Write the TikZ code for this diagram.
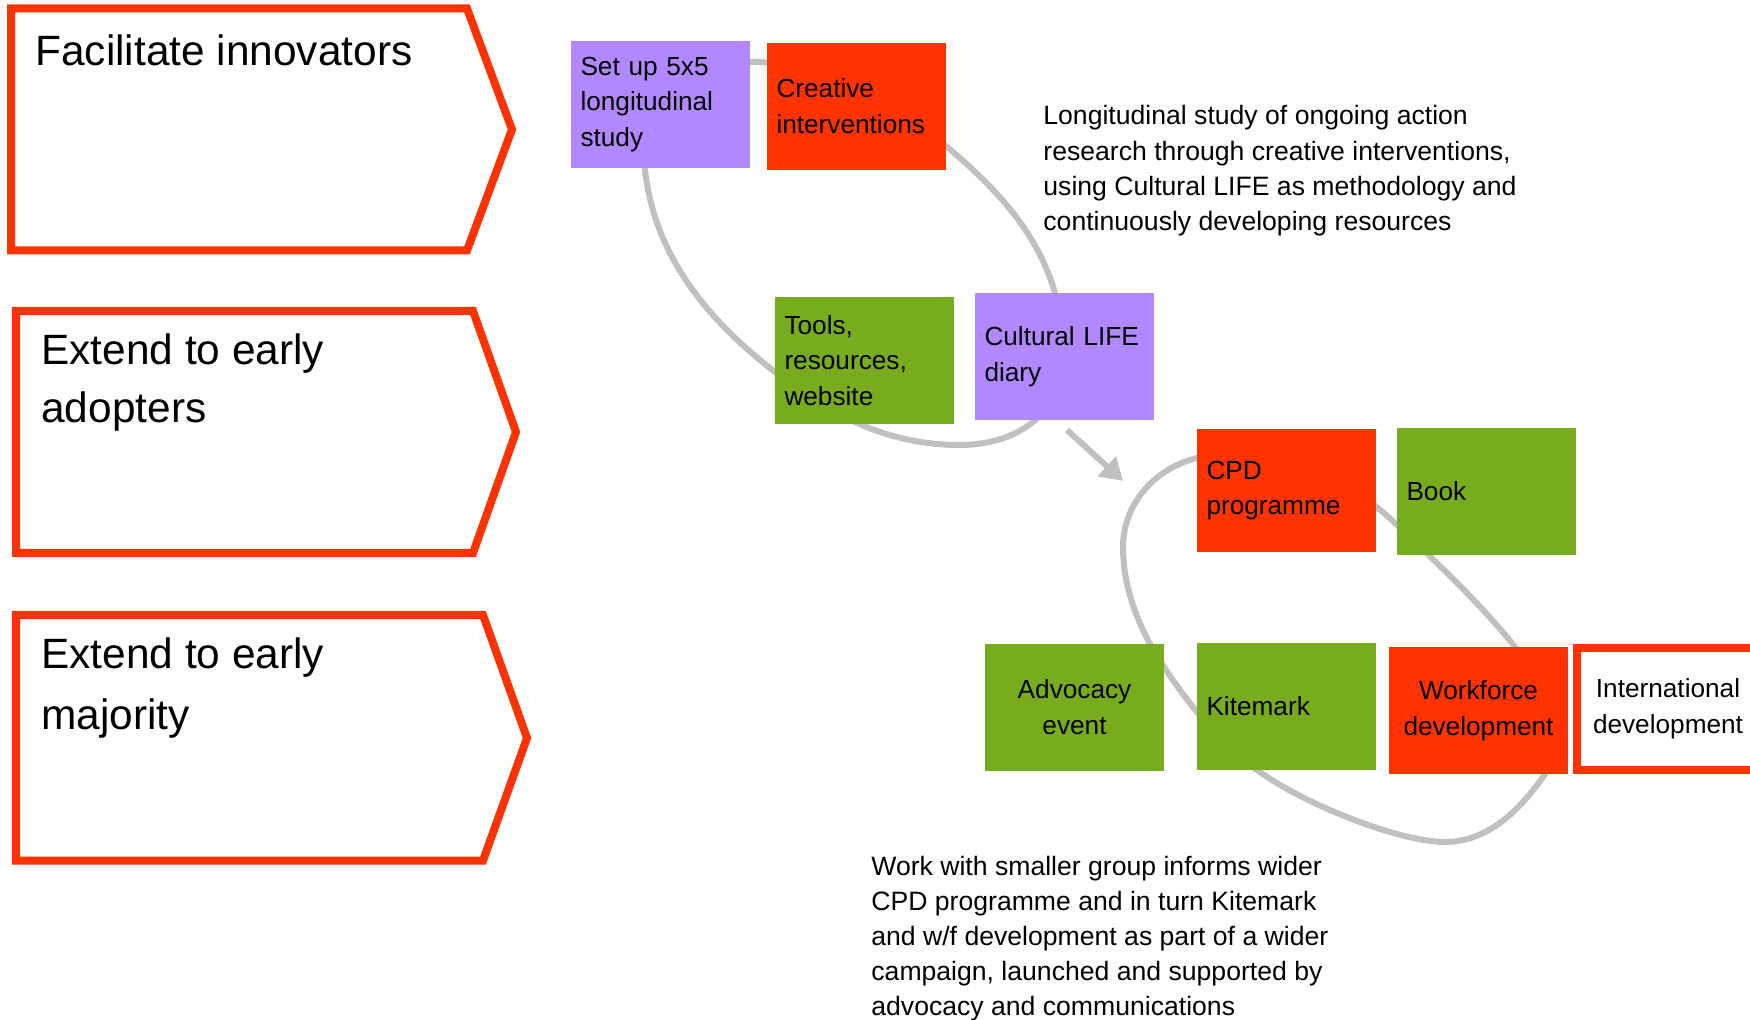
\documentclass[tikz,border=0pt]{standalone}
\usepackage{fontspec}
\setmainfont{Liberation Sans}
\usetikzlibrary{arrows.meta}
\definecolor{cred}{RGB}{255,51,0}
\definecolor{cpurple}{RGB}{178,136,255}
\definecolor{cgreen}{RGB}{119,172,31}
\definecolor{cgray}{RGB}{192,192,192}
\begin{document}
\begin{tikzpicture}[x=0.5pt,y=-0.5pt,
  phasebox/.style={draw=cred, line width=4pt, line join=miter},
  phasetext/.style={anchor=base west, inner sep=0pt, align=left, font=\fontsize{21.2}{29.2}\selectfont},
  card/.style={minimum width=89.5pt, minimum height=63.5pt, inner xsep=4.75pt, inner ysep=0pt, text width=80pt, font=\fontsize{13.1}{17.9}\selectfont},
  cardl/.style={card, align=left},
  cardc/.style={card, align=center},
  grayloop/.style={draw=cgray, line width=3pt, line cap=round},
  notetext/.style={anchor=base west, inner sep=0pt, align=left, font=\fontsize{13.3}{17.6}\selectfont},
]
\useasboundingbox (0,0) rectangle (1750,1020);
\clip (0,0) rectangle (1750,1020);

% phase arrows (base anchor = baseline of the last line)
\draw[phasebox] (11,8.5) -- (467,8.5) -- (512,129.5) -- (467,250.5) -- (11,250.5) -- cycle;
\draw[phasebox] (16,311) -- (473,311) -- (516,432) -- (473,553) -- (16,553) -- cycle;
\draw[phasebox] (16,615) -- (483,615) -- (527,738) -- (483,860.5) -- (16,860.5) -- cycle;
\node[phasetext] (ph1) at (35,65.7) {Facilitate innovators};
\node[phasetext] (ph2) at (41,422.7) {Extend to early\\adopters};
\node[phasetext, font=\fontsize{21.2}{30.5}\selectfont] (ph3) at (41,729.3) {Extend to early\\majority};

% loops
\draw[grayloop] (645,170) .. controls (654.5,255.5) and (707,319.5) .. (775,372)
  .. controls (832,416) and (888,445) .. (960,445)
  .. controls (1010,445) and (1066,420) .. (1064,345)
  .. controls (1058,255) and (1010,200) .. (946,146)
  .. controls (900,106) and (821,65) .. (760,62)
  .. controls (696,59) and (638,106) .. (645,170);
\draw[grayloop] (1197,458) .. controls (1155,468) and (1123,504) .. (1123,547)
  .. controls (1123,590) and (1140,631) .. (1164,667)
  .. controls (1190,706) and (1219,742) .. (1257,770)
  .. controls (1305,805) and (1400,842) .. (1445,842)
  .. controls (1487,842) and (1519,811) .. (1543,777)
  .. controls (1571,737) and (1545,685) .. (1515,647)
  .. controls (1480,603) and (1438,564) .. (1397,525)
  .. controls (1343,473) and (1270,440) .. (1197,458);

% arrow
\coordinate (arrS) at (1067,430);
\coordinate (arrE) at (1123,481);
\draw[draw=cgray, line width=3pt, -{Triangle[length=11pt,width=13pt]}] (arrS) -- (arrE);

% boxes
\node[cardl, fill=cpurple] (setup) at (660.5,104.5) {Set up 5x5\\longitudinal\\study};
\node[cardl, fill=cred] (creative) at (856.5,106.5) {Creative\\interventions};
\node[cardl, fill=cgreen] (tools) at (864.5,360.5) {Tools,\\resources,\\website};
\node[cardl, fill=cpurple] (diary) at (1064.5,356.5) {Cultural LIFE\\diary};
\node[cardl, fill=cred, minimum height=61.5pt] (cpd) at (1286.5,490.5) {CPD\\programme};
\node[cardl, fill=cgreen] (book) at (1486.5,491.5) {Book};
\node[cardc, fill=cgreen] (advocacy) at (1074.5,707.5) {Advocacy\\event};
\node[cardl, fill=cgreen] (kitemark) at (1286.5,706.5) {Kitemark};
\node[cardc, fill=cred] (workforce) at (1478.5,710.5) {Workforce\\development};
\node[cardc, fill=white, draw=cred, line width=4pt, minimum width=91pt, minimum height=61pt, text width=82pt] (intl) at (1668,709) {International\\development};

% notes
\node[notetext] (note1) at (1043,230.6) {Longitudinal study of ongoing action\\research through creative interventions,\\using Cultural LIFE as methodology and\\continuously developing resources};
\node[notetext] (note2) at (871,1015.8) {Work with smaller group informs wider\\CPD programme and in turn Kitemark\\and w/f development as part of a wider\\campaign, launched and supported by\\advocacy and communications};
\end{tikzpicture}
\end{document}
